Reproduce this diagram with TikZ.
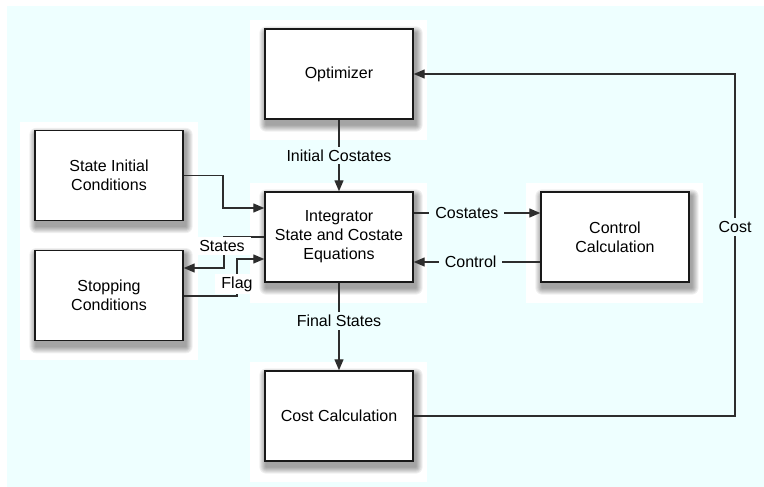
\documentclass[tikz,border=0pt]{standalone}
\usepackage{fontspec}
\setmainfont{Liberation Sans}
\usetikzlibrary{arrows.meta,calc,backgrounds}
\definecolor{bgcyan}{RGB}{238,255,255}
\definecolor{linegray}{RGB}{45,45,45}
\begin{document}
\begin{tikzpicture}[x=1pt,y=-1pt,
  box/.style={draw=black!90, line width=1.4pt, fill=white, minimum width=148pt, minimum height=90pt,
    inner sep=0pt, align=center, font=\fontsize{16}{19}\selectfont},
  lbl/.style={fill=bgcyan, inner xsep=6pt, inner ysep=3pt, font=\fontsize{16}{19}\selectfont},
  wlbl/.style={lbl, fill=white},
  arr/.style={draw=linegray, line width=1.3pt, -{Triangle[length=11pt,width=9pt]}},
  conn/.style={draw=linegray, line width=1.3pt}]
\useasboundingbox (0,0) rectangle (764,487);

% boxes
\node[box] (opt)   at (339,74)    {Optimizer};
\node[box] (integ) at (339,237)   {Integrator\\State and Costate\\Equations};
\node[box] (ctrl)  at (615,237)   {Control\\Calculation};
\node[box] (cost)  at (339,416)   {Cost Calculation};
\node[box] (sic)   at (109,175.5) {State Initial\\Conditions};
\node[box] (stop)  at (109,295.7) {Stopping\\Conditions};

% background, halos, shadows
\begin{scope}[on background layer]
  \fill[bgcyan] (7,6) rectangle (764,487);
  \fill[white] (250,20) rectangle (427,140);
  \fill[white] (250,183) rectangle (427,303);
  \fill[white] (526,183) rectangle (703,303);
  \fill[white] (250,362) rectangle (427,482);
  \fill[white] (20,122) rectangle (198,360);
  \foreach \nm in {opt,integ,ctrl,cost,sic,stop}{
    \foreach \rr in {1,...,7}{
      \fill[black, opacity=0.06, rounded corners=\rr pt]
        ($(\nm.north west)+(2-\rr,5-\rr)$) rectangle ($(\nm.south east)+(2+\rr,5+\rr)$);
    }
  }
\end{scope}

% named bend points
\coordinate (k1) at (223,208);
\coordinate (s1) at (224,237);
\coordinate (s2) at (224,268);
\coordinate (f1) at (237,296);
\coordinate (f2) at (237,259);
\coordinate (cy) at (0,213);
\coordinate (ky) at (0,262);
\coordinate (c1) at (735,416);
\coordinate (c2) at (735,74);

% connectors
\draw[arr] (opt) -- node[lbl] {Initial Costates} (integ);
\draw[arr] (integ) -- node[lbl,pos=0.44] {Final States} (cost);
\draw[arr] (integ.east|-cy) -- node[lbl,pos=0.42] {Costates} (ctrl.west|-cy);
\draw[arr] (ctrl.west|-ky) -- node[lbl,pos=0.55] {Control} (integ.east|-ky);
\draw[arr] (sic.east) -| (k1) -- (integ.west|-k1);
\draw[arr] (integ.west) -- (s1) -- (s2) -- (stop.east|-s2);
\node[wlbl] (lstates) at (222,246) {States};
\draw[arr] (stop.east|-f1) -- (f1) -- (f2) -- (integ.west|-f2);
\node[wlbl] (lflag) at (237,284) {Flag};
\draw[arr] (cost.east) -- (c1) -- node[lbl,pos=0.553] {Cost} (c2) -- (opt.east);
\end{tikzpicture}
\end{document}
